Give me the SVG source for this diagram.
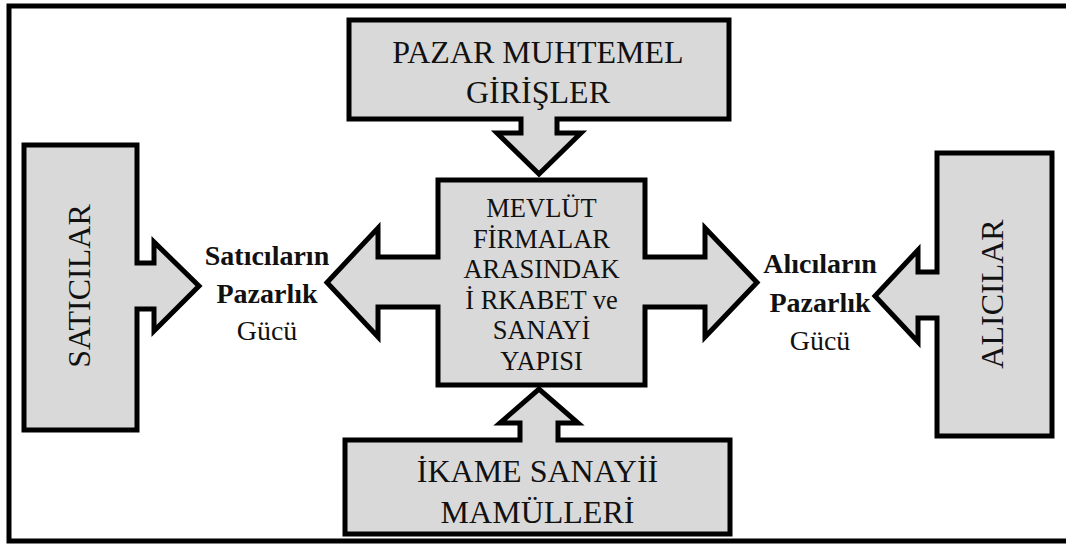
<svg xmlns="http://www.w3.org/2000/svg" width="1066" height="545" viewBox="0 0 1066 545">
  <style>
    .shape { fill: #d9d9d9; stroke: #000; stroke-width: 5; stroke-linejoin: miter; stroke-miterlimit: 10; }
    .frame { fill: #fff; stroke: #000; stroke-width: 5; }
    text { font-family: "Liberation Serif", "Times New Roman", serif; fill: #111; }
    .big { font-size: 32px; }
    .mid { font-size: 26.5px; }
    .lbl { font-size: 28px; }
    .b { font-weight: bold; }
  </style>

  <!-- outer frame (right side runs off the canvas) -->
  <rect class="frame" x="9" y="6" width="1070" height="535"/>

  <!-- potential entrants, with arrow pointing down -->
  <g id="entrants">
    <path class="shape" d="M349,20 H729 V119 H557 V133 H581 L539,174 L497,133 H521 V119 H349 Z"/>
    <text class="big" text-anchor="middle" x="538" y="63">PAZAR MUHTEMEL</text>
    <text class="big" text-anchor="middle" x="538" y="103">GİRİŞLER</text>
  </g>

  <!-- central rivalry block, with arrows out to both sides -->
  <g id="rivalry">
    <path class="shape" d="M438,180 H645 V257 H705 V228 L757,282.5 L705,337 V307 H645 V385 H438 V307 H378 V337 L327,282.5 L378,228 V257 H438 Z"/>
    <text class="mid" text-anchor="middle" x="541.5" y="217">MEVLÜT</text>
    <text class="mid" text-anchor="middle" x="541.5" y="247.6">FİRMALAR</text>
    <text class="mid" text-anchor="middle" x="541.5" y="278.2">ARASINDAK</text>
    <text class="mid" text-anchor="middle" x="541.5" y="308.8">İ RKABET ve</text>
    <text class="mid" text-anchor="middle" x="541.5" y="339.4">SANAYİ</text>
    <text class="mid" text-anchor="middle" x="541.5" y="370">YAPISI</text>
  </g>

  <!-- substitutes, with arrow pointing up -->
  <g id="substitutes">
    <path class="shape" d="M345,440 H520 V423 H500 L539,389 L578,423 H558 V440 H730 V534 H345 Z"/>
    <text class="big" text-anchor="middle" x="537.5" y="482">İKAME SANAYİİ</text>
    <text class="big" text-anchor="middle" x="537.5" y="523">MAMÜLLERİ</text>
  </g>

  <!-- suppliers, with arrow pointing right -->
  <g id="suppliers">
    <path class="shape" d="M24,145 H137 V263 H154 V242 L199,286 L154,331 V309 H137 V430 H24 Z"/>
    <text class="big" text-anchor="middle" transform="translate(90,286) rotate(-90)">SATICILAR</text>
  </g>

  <!-- buyers, with arrow pointing left -->
  <g id="buyers">
    <path class="shape" d="M937,153 H1052 V436 H937 V318 H918 V342 L875,296 L918,250 V272 H937 Z"/>
    <text class="big" text-anchor="middle" transform="translate(1003,294) rotate(-90)">ALICILAR</text>
  </g>

  <!-- bargaining power labels -->
  <g id="supplier-power">
    <text class="lbl b" text-anchor="middle" x="267" y="265">Satıcıların</text>
    <text class="lbl b" text-anchor="middle" x="267" y="303">Pazarlık</text>
    <text class="lbl" text-anchor="middle" x="267" y="340">Gücü</text>
  </g>
  <g id="buyer-power">
    <text class="lbl b" text-anchor="middle" x="820" y="273">Alıcıların</text>
    <text class="lbl b" text-anchor="middle" x="820" y="312">Pazarlık</text>
    <text class="lbl" text-anchor="middle" x="820" y="350">Gücü</text>
  </g>
</svg>
